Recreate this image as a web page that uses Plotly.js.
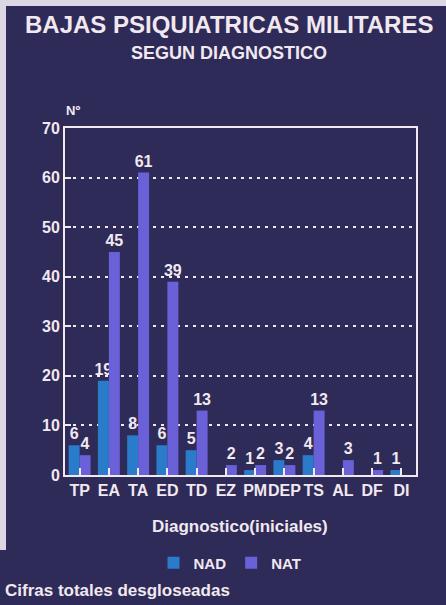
<!DOCTYPE html>
<html>
<head>
<meta charset="utf-8">
<script src="https://cdn.plot.ly/plotly-3.0.1.min.js"></script>
<style>
  html, body { margin: 0; padding: 0; background: #2e2b58; width: 446px; height: 605px; overflow: hidden; }
  #chart { position: absolute; left: 0; top: 0; width: 446px; height: 605px; }
</style>
</head>
<body>
<div id="chart"></div>
<script>
// Diagnostic initials on the x axis
const categories = ['TP', 'EA', 'TA', 'ED', 'TD', 'EZ', 'PM', 'DEP', 'TS', 'AL', 'DF', 'DI'];
// Cases per diagnosis, by group
const nadValues = [6, 19, 8, 6, 5, 0, 1, 3, 4, 0, 0, 1];
const natValues = [4, 45, 61, 39, 13, 2, 2, 2, 13, 3, 1, 0];
// Y axis ticks
const yTicks = [0, 10, 20, 30, 40, 50, 60, 70];

const ink = '#f2e8f0';
const bg = '#2e2b58';
const edge = '#dcd7e3';
const face = 'Liberation Sans, Arial, sans-serif';
const bold = (size) => ({ family: face, size: size, color: ink, weight: 700 });

const label = (vals) => vals.map(v => (v > 0 ? String(v) : ''));

const traces = [
  {
    type: 'bar', name: 'NAD', x: categories, y: nadValues,
    text: label(nadValues), textposition: 'outside', constraintext: 'none',
    textfont: bold(16), cliponaxis: false,
    marker: { color: '#2b7bcb' }, hoverinfo: 'x+y+name'
  },
  {
    type: 'bar', name: 'NAT', x: categories, y: natValues,
    text: label(natValues), textposition: 'outside', constraintext: 'none',
    textfont: bold(16), cliponaxis: false,
    marker: { color: '#6a60d8' }, hoverinfo: 'x+y+name'
  }
];

// plot area spans 65..416 px horizontally and 128..475 px vertically
const px = (X) => (X - 65) / 351;
const py = (Y) => (475 - Y) / 347;

const layout = {
  width: 446, height: 605,
  margin: { l: 65, r: 30, t: 128, b: 130 },
  paper_bgcolor: bg, plot_bgcolor: bg,
  barmode: 'group', bargap: 0.25, bargroupgap: 0,
  showlegend: true,
  legend: {
    orientation: 'h', x: px(230), xanchor: 'center', y: py(563), yanchor: 'middle',
    font: bold(15), bgcolor: 'rgba(0,0,0,0)', itemclick: false
  },
  xaxis: {
    type: 'category', showline: true, linecolor: ink, linewidth: 2, mirror: true,
    ticks: 'inside', ticklen: 7, tickwidth: 2, tickcolor: ink, tickangle: 0,
    tickfont: bold(16), showgrid: false, zeroline: false, fixedrange: true
  },
  yaxis: {
    range: [0, 70], tickvals: yTicks, showline: true, linecolor: ink, linewidth: 2, mirror: true,
    ticks: 'inside', ticklen: 6, tickwidth: 2, tickcolor: ink,
    tickfont: bold(16), showgrid: true, gridcolor: ink, gridwidth: 2, griddash: '3px,5px',
    zeroline: false, fixedrange: true
  },
  shapes: [
    // pale mount edge along the top and left
    { type: 'rect', xref: 'paper', yref: 'paper', x0: px(0), x1: px(446), y0: py(0), y1: py(6),
      fillcolor: edge, line: { width: 0 }, layer: 'below' },
    { type: 'rect', xref: 'paper', yref: 'paper', x0: px(0), x1: px(6), y0: py(0), y1: py(550),
      fillcolor: edge, line: { width: 0 }, layer: 'below' }
  ],
  annotations: [
    { text: 'BAJAS PSIQUIATRICAS MILITARES', xref: 'paper', yref: 'paper', x: px(229), y: py(24),
      xanchor: 'center', yanchor: 'middle', showarrow: false, font: bold(24) },
    { text: 'SEGUN DIAGNOSTICO', xref: 'paper', yref: 'paper', x: px(229), y: py(53),
      xanchor: 'center', yanchor: 'middle', showarrow: false, font: bold(18) },
    { text: 'Nº', xref: 'paper', yref: 'paper', x: px(73), y: py(110),
      xanchor: 'center', yanchor: 'middle', showarrow: false, font: bold(13) },
    { text: 'Diagnostico(iniciales)', xref: 'paper', yref: 'paper', x: px(240), y: py(526),
      xanchor: 'center', yanchor: 'middle', showarrow: false, font: bold(17) },
    { text: 'Cifras totales desgloseadas', xref: 'paper', yref: 'paper', x: px(3), y: py(590),
      xanchor: 'left', yanchor: 'middle', showarrow: false, font: bold(17) }
  ]
};

Plotly.newPlot('chart', traces, layout, { displayModeBar: false, staticPlot: true });
</script>
</body>
</html>
